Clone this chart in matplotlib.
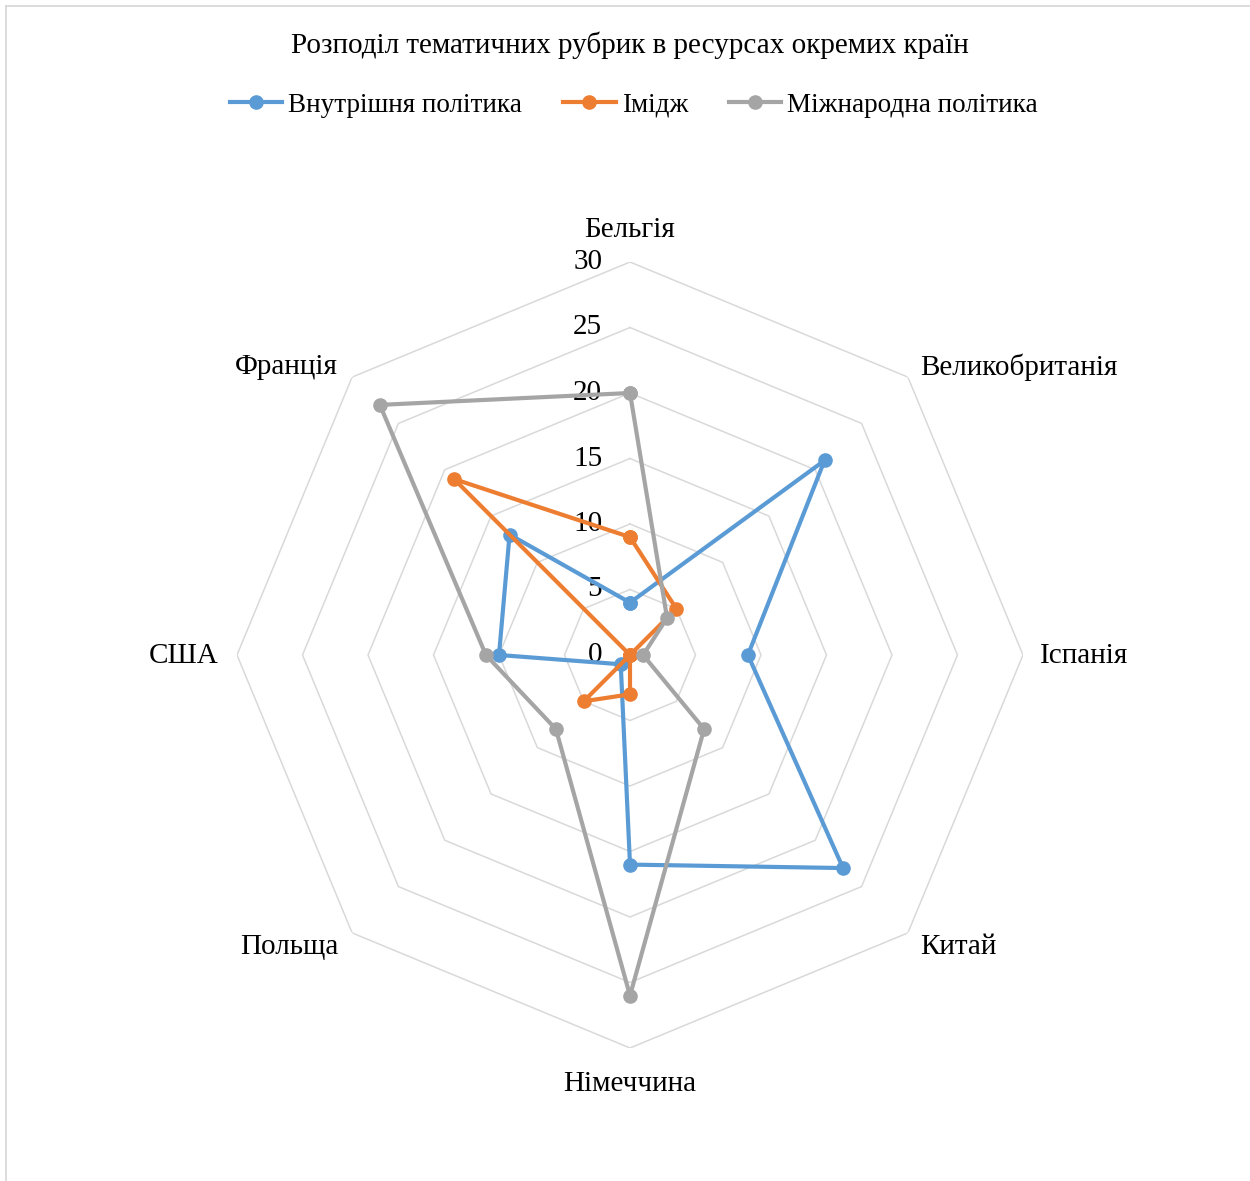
import matplotlib.pyplot as plt
from matplotlib.lines import Line2D
import numpy as np

plt.rcParams['font.family'] = ['Liberation Serif', 'DejaVu Serif']

countries = ['Бельгія', 'Великобританія', 'Іспанія', 'Китай',
             'Німеччина', 'Польща', 'США', 'Франція']
internal = [4, 21, 9, 23, 16, 1, 10, 13]
image = [9, 5, 0, 0, 3, 5, 0, 19]
international = [20, 4, 1, 8, 26, 8, 11, 27]
series_names = ['Внутрішня політика', 'Імідж', 'Міжнародна політика']
r_ticks = [0, 5, 10, 15, 20, 25, 30]

colors = ['#5B9BD5', '#ED7D31', '#A5A5A5']

W, H = 1250, 1181
fig = plt.figure(figsize=(W / 100, H / 100), dpi=100)

# polar axes placed so centre ~ (630, 655) px, radius ~393 px
cx, cy, rad = 630, 655, 393
ax = fig.add_axes([(cx - rad) / W, (H - cy - rad) / H, 2 * rad / W, 2 * rad / H],
                  projection='polar')
ax.set_theta_zero_location('N')
ax.set_theta_direction(-1)
ax.set_ylim(0, 30)
ax.grid(False)
ax.spines['polar'].set_visible(False)
ax.set_xticks([])
ax.set_yticks([])
ax.patch.set_alpha(0)

n = len(countries)
theta = np.arange(n) * 2 * np.pi / n
theta_closed = np.append(theta, theta[0])

# octagonal grid
for r in r_ticks[1:]:
    ax.plot(theta_closed, [r] * (n + 1), color='#d9d9d9', lw=1.1, zorder=1)

fs = 21
# radial tick labels
for r in r_ticks:
    ax.annotate(str(r), xy=(0, r), xytext=(-20, 0), textcoords='offset points',
                ha='right', va='center', fontsize=fs)

# category labels
offsets = [((0, 23), 'center'), ((9, 7), 'left'), ((12, -1), 'left'),
           ((9, -10), 'left'), ((0, -26), 'center'), ((-10, -10), 'right'),
           ((-13, -1), 'right'), ((-10, 7), 'right')]
for t, name, (off, ha) in zip(theta, countries, offsets):
    ax.annotate(name, xy=(t, 30), xytext=off, textcoords='offset points',
                ha=ha, va='center', fontsize=fs)

for vals, c, name in zip([internal, image, international], colors, series_names):
    v = np.append(vals, vals[0])
    ax.plot(theta_closed, v, color=c, lw=3, marker='o', markersize=9.5,
            label=name, zorder=3)
ax.set_rmin(0)

fig.text(0.504, 1 - 45 / H, 'Розподіл тематичних рубрик в ресурсах окремих країн',
         ha='center', va='center', fontsize=fs)

handles = [Line2D([], [], color=c, lw=3, marker='o', markersize=9.5) for c in colors]
fig.legend(handles, series_names, loc='center', bbox_to_anchor=(0.507, 1 - 105 / H),
           ncol=3, frameon=False, prop={'family': 'Liberation Serif', 'size': 19.5},
           handlelength=1.95, handletextpad=0.22, columnspacing=1.5)

# partial chart-area frame (left and top edges)
fig.add_artist(Line2D([6 / W, 6 / W], [0, 1 - 6 / H], color='#d9d9d9', lw=1.3,
                      transform=fig.transFigure))
fig.add_artist(Line2D([6 / W, 1], [1 - 6 / H, 1 - 6 / H], color='#d9d9d9', lw=1.3,
                      transform=fig.transFigure))

fig.savefig('out.png', dpi=100)
